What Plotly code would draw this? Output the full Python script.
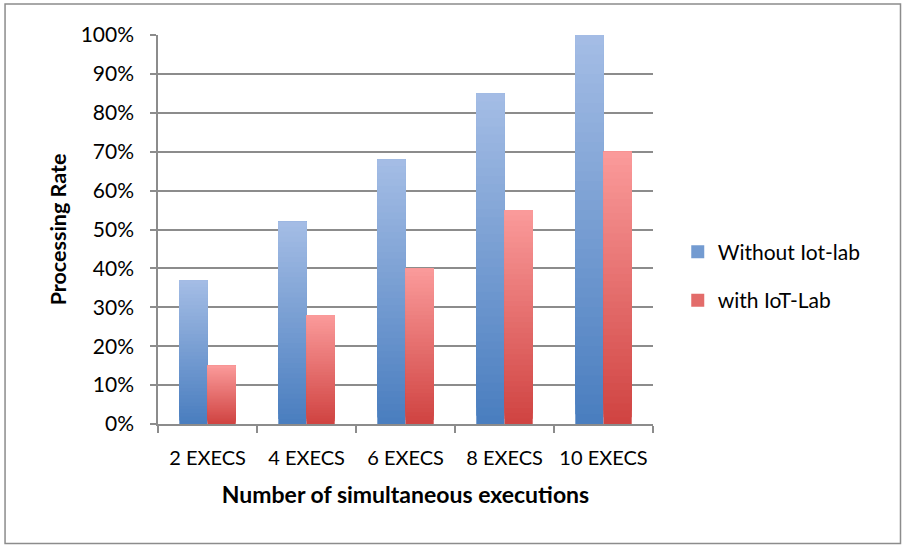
import plotly.graph_objects as go

# Data
categories = ["2 EXECS", "4 EXECS", "6 EXECS", "8 EXECS", "10 EXECS"]
without_iotlab = [0.37, 0.52, 0.68, 0.85, 1.00]
with_iotlab = [0.15, 0.28, 0.40, 0.55, 0.70]
series_names = ["Without Iot-lab", "with IoT-Lab"]

# Gradient end colours (bottom, top) for each series
blue_bottom, blue_top = (74, 126, 191), (166, 190, 230)
red_bottom, red_top = (208, 68, 66), (251, 156, 156)

FONT = "Lato"
BAR_W = 0.285
N_STEPS = 40


def mix(c0, c1, t):
    return "rgb(%d,%d,%d)" % tuple(round(a + (b - a) * t) for a, b in zip(c0, c1))


fig = go.Figure()


def add_gradient_bars(values, c_bottom, c_top, offset, name):
    # Each layer starts a bit higher and runs to the bar's top, so the
    # layers drawn later paint the lighter upper part of the bar.
    for k in range(N_STEPS):
        frac = k / N_STEPS
        bases = [v * frac for v in values]
        heights = [v - b for v, b in zip(values, bases)]
        fig.add_trace(go.Bar(
            x=categories, y=heights, base=bases,
            width=BAR_W, offset=offset,
            marker=dict(color=mix(c_bottom, c_top, frac), line=dict(width=0)),
            showlegend=False, hoverinfo="skip", legendgroup=name,
        ))
    # legend entry
    fig.add_trace(go.Scatter(
        x=[None], y=[None], mode="markers", name=name, legendgroup=name,
        marker=dict(symbol="square", size=13,
                    color=mix(c_bottom, c_top, 0.45)),
    ))


add_gradient_bars(without_iotlab, blue_bottom, blue_top, -BAR_W, series_names[0])
add_gradient_bars(with_iotlab, red_bottom, red_top, 0.0, series_names[1])

fig.update_layout(
    width=903, height=545,
    margin=dict(l=158, r=250, t=35, b=121),
    paper_bgcolor="white", plot_bgcolor="white",
    barmode="overlay",
    font=dict(family=FONT, size=21, color="black"),
    legend=dict(x=1.05, y=0.38, xanchor="left", yanchor="middle",
                tracegroupgap=18, font=dict(size=21),
                itemwidth=30),
    xaxis=dict(
        range=[-0.5, 4.5], showgrid=False,
        showline=True, linecolor="#8c8c8c", linewidth=1.5,
        ticks="outside", tickson="boundaries", ticklen=7,
        tickcolor="#8c8c8c", tickwidth=1.5, tickangle=0,
        tickfont=dict(size=20), ticklabelstandoff=15,
        title=dict(text="<b>Number of simultaneous executions</b>",
                   font=dict(size=23), standoff=19),
    ),
    yaxis=dict(
        range=[0, 1.0], dtick=0.1, tickformat=".0%",
        showgrid=True, gridcolor="#8c8c8c", gridwidth=1.5,
        showline=True, linecolor="#8c8c8c", linewidth=1.5,
        ticks="outside", ticklen=6, tickcolor="#8c8c8c", tickwidth=1.5,
        ticklabelstandoff=12, zeroline=False,
        title=dict(text="<b>Processing Rate</b>", font=dict(size=21.5),
                   standoff=8),
    ),
    shapes=[dict(type="rect", xref="paper", yref="paper",
                 x0=-0.309, x1=1.5, y0=-0.307, y1=1.0795,
                 line=dict(color="#8c8c8c", width=1.5))],
)

fig.write_html("out.html")
